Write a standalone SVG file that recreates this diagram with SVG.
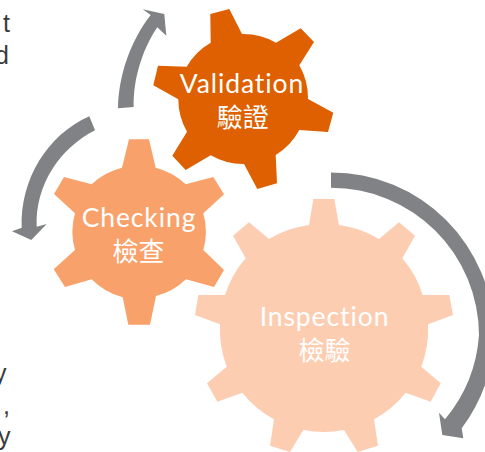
<svg xmlns="http://www.w3.org/2000/svg" width="485" height="452" viewBox="0 0 485 452">
<style>
.arrow{fill:#808285}
.lab{font-family:"Lato","Noto Sans CJK TC",sans-serif;font-weight:400;font-size:26.500px;fill:#fff;text-anchor:middle;letter-spacing:.9px}
.zh{font-family:"Noto Sans CJK TC",sans-serif;font-weight:400;font-size:26px;fill:#fff;text-anchor:middle}
.frag{font-family:"Liberation Sans",sans-serif;font-size:25px;fill:#3a3a3c}
</style>
<rect width="485" height="452" fill="#fff"/>
<g id="connectors">
<path class="arrow" d="M331 172.500A163 163 0 0 1 494 335A163 163 0 0 1 461.700 428.300L463.300 438.300L442.300 435L439 412.700L445 419.300A148 148 0 0 0 479 335A148 148 0 0 0 331 187.700Z"/>
<path class="arrow" d="M118 108.300C118.500 75 131 40 150.700 15L142.700 9.300L164.300 14L166.300 35.700L157.300 27.300C142 50 133 80 133.700 107Z"/>
<path class="arrow" d="M89.300 116.300L95 130.300C60 148 35 185 36.700 226.700L46.700 224L31.300 240L12 231.300L21.700 227.700C20 180 47 135 89.300 116.300Z"/>
</g>
<g id="inspection">
<path fill="#fdcdb2" d="M313.300 199L334.300 199L339 225A104 104 0 0 1 379 239L399 222.300L415 235.700L402.300 258.300A104 104 0 0 1 422.700 295L449.300 295L453 315L428 324.300A104 104 0 0 1 421.300 366.700L440.700 383.300L430.700 401.700L405.700 392.700A104 104 0 0 1 374 419.300L378 445.700L357.700 452L344 430A104 104 0 0 1 303.300 430L290 452L270 445.700L274 419.300A104 104 0 0 1 242.300 392.700L217.300 401.700L207 383.300L226.700 366.700A104 104 0 0 1 220 324.300L195 315L198.300 295L225 295A104 104 0 0 1 245.700 258.300L233 235.700L249 222.300L269 239A104 104 0 0 1 309 225Z"/>
<text class="lab" x="324.500" y="326">Inspection</text>
<text class="zh" x="324.500" y="360">檢驗</text>
</g>
<g id="checking">
<path fill="#f9a16a" d="M129 139.300L149 139.300L155.700 167.700A66.500 66.500 0 0 1 185.700 184.300L213.300 177L224 194.300L203.300 213.300A66.500 66.500 0 0 1 203.300 250L224 270L214 287L186 279.300A66.500 66.500 0 0 1 156 296L150 324.700L128.300 324.700L122.700 297.300A66.500 66.500 0 0 1 91.700 279.300L65 287L53.700 269.300L75 250A66.500 66.500 0 0 1 75 213.300L54 194L64 177L91.700 184.300A66.500 66.500 0 0 1 122 167.700Z"/>
<text class="lab" x="139" y="227">Checking</text>
<text class="zh" x="138.500" y="261">檢查</text>
</g>
<g id="validation">
<path fill="#de6000" d="M210.300 14L229.300 9L242 34A65 65 0 0 1 276 42.700L300.700 28.300L314 42L299.300 65.300A65 65 0 0 1 308 99L333.300 112.700L328 132L299.300 130A65 65 0 0 1 275.700 155L277 183.300L257.300 189L244 164A65 65 0 0 1 210.700 155.300L185.700 170L172.300 155.700L187 131.700A65 65 0 0 1 178.300 99.300L153.300 85.300L158 65.700L186.700 66.700A65 65 0 0 1 210.700 42.700Z"/>
<text class="lab" x="242" y="92.700">Validation</text>
<text class="zh" x="242.700" y="127">驗證</text>
</g>
<g id="fragments">
<text class="frag" x="3" y="32">t</text>
<text class="frag" x="-5" y="64">d</text>
<text class="frag" x="-6" y="382">y</text>
<text class="frag" x="3" y="414">,</text>
<text class="frag" x="-2" y="445">y</text>
</g>
</svg>
